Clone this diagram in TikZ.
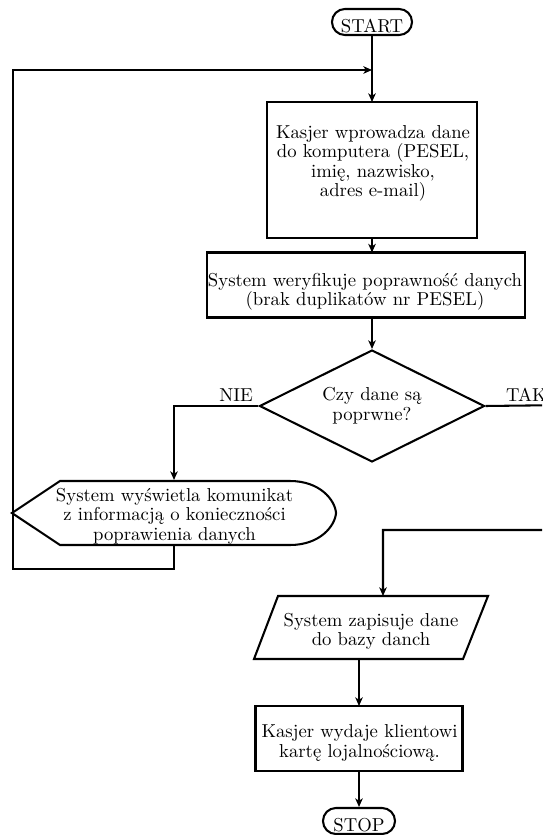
\documentclass[tikz,border=0pt]{standalone}
\usepackage{fontspec}
\usetikzlibrary{arrows.meta,shapes.geometric}
\newcommand\pxu{0.5348pt}
\begin{document}
\begin{tikzpicture}[x=0.5348pt,y=-0.5348pt,
  line width=1.1pt,
  shapebox/.style={draw, rectangle, inner sep=0pt, outer sep=0pt},
  txt/.style={align=center, inner sep=0pt, font=\fontsize{10}{10.3}\selectfont},
  arr/.style={-{Stealth[length=4.6pt,width=4pt,inset=1.3pt]}},
  term/.style={draw, rectangle, rounded corners=6.9pt, inner sep=0pt, minimum height=26*\pxu}]
\useasboundingbox (0,0) rectangle (542,835);
\clip (0,0) rectangle (542,835);

% START
\node[term, minimum width=80*\pxu] (start) at (372,22) {};
\node[txt, anchor=base] (startT) at (372,33) {START};

% box 1
\node[shapebox, minimum width=210*\pxu, minimum height=136*\pxu] (b1) at (372,170) {};
\node[txt, anchor=base] (b1T) at (373,196.5) {Kasjer wprowadza dane\\do komputera (PESEL,\\imię, nazwisko,\\adres e-mail)};

% box 2
\node[shapebox, minimum width=318*\pxu, minimum height=65*\pxu] (b2) at (366,285) {};
\node[txt, anchor=base] (b2T) at (365,305.5) {System weryfikuje poprawność danych\\(brak duplikatów nr PESEL)};

% decision
\node[draw, diamond, aspect=2, inner sep=0pt, minimum width=225*\pxu, minimum height=112*\pxu] (dec) at (372,406) {};
\node[txt, anchor=base] (decT) at (372,420) {Czy dane są\\poprwne?};
\node[txt, anchor=base east] (nie) at (254,401) {NIE};
\node[txt, anchor=base west] (tak) at (505,401) {TAK};

% display
\node[inner sep=0pt, minimum width=322*\pxu, minimum height=64*\pxu] (disp) at (174,513) {};
\draw (disp.west) -- (60,481) -- (290,481) .. controls (320,481) and (335,500) .. (disp.east)
      .. controls (335,526) and (320,545) .. (290,545) -- (60,545) -- cycle;
\node[txt, anchor=base] (dispT) at (174.5,540) {System wyświetla komunikat\\z informacją o konieczności\\poprawienia danych};

% parallelogram
\node[inner sep=0pt, minimum width=234*\pxu, minimum height=63*\pxu] (par) at (371,627.5) {};
\coordinate (parT) at (383,596);
\coordinate (parB) at (359,659);
\draw (278,596) -- (488,596) -- (463,659) -- (254,659) -- cycle;
\node[txt, anchor=base] (parTxt) at (371,645.5) {System zapisuje dane\\do bazy danch};

% box 3
\node[shapebox, minimum width=207*\pxu, minimum height=65*\pxu] (b3) at (359,738.5) {};
\node[txt, anchor=base] (b3T) at (359.5,757) {Kasjer wydaje klientowi\\kartę lojalnościową.};

% STOP
\node[term, minimum width=72*\pxu] (stop) at (359,821) {};
\node[txt, anchor=base] (stopT) at (359,831) {STOP};

% connectors
\coordinate (j1) at (372,70);
\coordinate (l1) at (13,569);
\coordinate (l2) at (13,70);
\coordinate (r1) at (570,405);
\coordinate (r2) at (570,530);

\draw[arr] (start.south) -- (b1.north);
\draw[arr] (b1.south) -- (b1.south |- b2.north);
\draw[arr] (b1.south |- b2.south) -- (dec.north);
\draw[arr] (dec.west) -| (disp.north);
\draw[arr] (disp.south) |- (l1) -- (l2) -- (j1);
\draw[arr] (dec.east) -- (r1) -- (r2) -| (parT);
\draw[arr] (parB) -- (b3.north);
\draw[arr] (b3.south) -- (stop.north);
\end{tikzpicture}
\end{document}
